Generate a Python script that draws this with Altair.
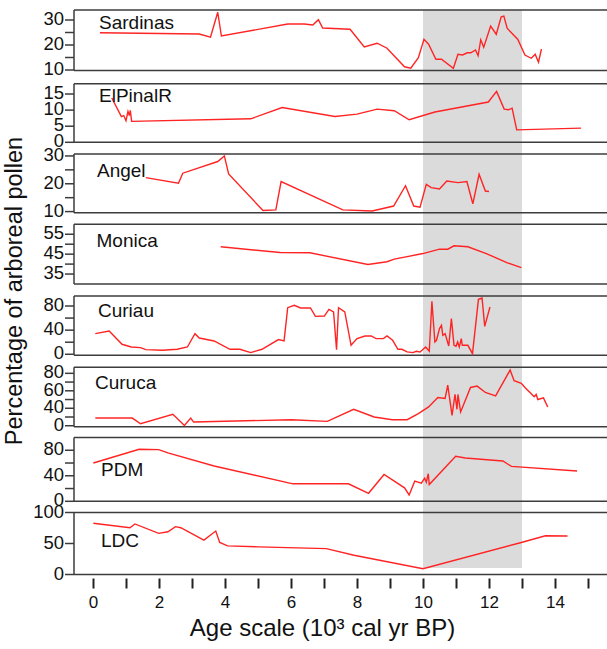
import altair as alt
import pandas as pd

# ---------------- data ----------------
band = [10, 13]

sardinas_age = [0.21, 3.22, 3.56, 3.78, 3.89, 5.9, 6.4, 6.66, 6.83, 6.96, 7.79, 8.22, 8.61, 8.91, 9.44, 9.63,
                9.86, 10.03, 10.17, 10.39, 10.56, 10.92, 11.06, 11.2, 11.34, 11.45, 11.59, 11.67, 11.75, 11.84,
                12.05, 12.22, 12.37, 12.45, 12.55, 12.87, 13.09, 13.28, 13.4, 13.5, 13.59]
sardinas_val = [24.9, 24.4, 23.1, 33.1, 23.6, 28.4, 28.4, 28.0, 30.1, 26.8, 26.3, 19.2, 20.7, 18.7, 11.3, 10.7,
                14.9, 22.3, 20.3, 14.3, 14.3, 10.7, 16.3, 16.0, 16.9, 16.9, 18.0, 15.7, 22.1, 19.1,
                27.6, 24.3, 31.3, 31.6, 26.7, 22.3, 16.0, 14.7, 16.3, 13.1, 18.4]

elpinal_age = [0.57, 0.86, 0.93, 1.0, 1.06, 1.1, 1.13, 1.17, 4.78, 5.73, 7.33, 8.0, 8.61, 9.13, 9.58, 10.36,
               11.98, 12.23, 12.46, 12.59, 12.7, 12.84, 14.79]
elpinal_val = [13.75, 8.0, 8.3, 6.7, 9.6, 8.3, 9.9, 6.5, 7.3, 10.8, 8.0, 8.75, 10.3, 9.8, 7.0, 9.4,
               12.5, 15.8, 10.3, 10.1, 10.6, 3.85, 4.4]

angel_age = [1.6, 2.59, 2.72, 3.78, 3.98, 4.11, 5.15, 5.54, 5.7, 7.57, 8.46, 9.11, 9.47, 9.72, 9.91, 10.1,
             10.25, 10.5, 10.72, 11.06, 11.33, 11.51, 11.7, 11.89, 12.0]
angel_val = [22.2, 20.2, 23.8, 28.0, 30.0, 23.5, 10.4, 10.6, 20.8, 10.6, 10.2, 12.0, 19.3, 12.0, 11.6, 19.8,
             18.6, 18.1, 21.0, 20.4, 20.8, 12.8, 23.4, 17.4, 17.2]

monica_age = [3.87, 5.67, 6.57, 8.33, 8.91, 9.13, 10.0, 10.5, 10.75, 10.94, 11.36, 11.92, 12.54, 12.98]
monica_val = [48.7, 45.8, 45.7, 39.8, 41.2, 42.5, 45.3, 47.5, 47.5, 49.2, 48.7, 45.3, 40.7, 38.2]

curiau_age = [0.07, 0.49, 0.88, 1.16, 1.44, 1.6, 2.1, 2.55, 2.86, 3.09, 3.22, 3.67, 4.15, 4.45, 4.78, 5.12,
              5.62, 5.79, 5.9, 6.1, 6.29, 6.59, 6.74, 7.01, 7.15, 7.29, 7.38, 7.44, 7.63, 7.82, 8.0, 8.24,
              8.43, 8.58, 8.8, 8.91, 9.08, 9.24, 9.36, 9.52, 9.69, 9.8, 9.91, 9.97, 10.08, 10.19, 10.27,
              10.36, 10.41, 10.5, 10.56, 10.6, 10.67, 10.78, 10.86, 10.94, 11.0, 11.05, 11.1, 11.16, 11.19,
              11.36, 11.5, 11.68, 11.79, 11.87, 12.03]
curiau_val = [34.2, 38.6, 16.6, 12.1, 11.0, 7.7, 6.6, 8.3, 12.1, 34.2, 27.0, 22.1, 8.3, 8.3, 2.8, 8.3,
              24.3, 22.1, 77.2, 81.1, 76.7, 76.7, 62.9, 63.4, 74.5, 70.1, 7.7, 77.2, 70.1, 14.9, 25.9, 30.3,
              30.3, 25.9, 25.9, 30.3, 23.2, 8.3, 8.3, 3.9, 2.8, 5.0, 3.9, 6.6, 12.1, 5.0, 87.7,
              20.4, 23.2, 42.5, 48.0, 31.4, 34.2, 13.8, 59.0, 14.9, 13.2, 20.4, 12.1, 25.9, 14.9,
              14.9, 1.1, 91.0, 93.2, 46.3, 78.3]

curuca_age = [0.07, 1.19, 1.44, 2.42, 2.77, 2.96, 3.05, 6.01, 7.1, 7.9, 8.52, 9.07, 9.52, 9.86, 10.17,
              10.45, 10.67, 10.75, 10.88, 10.97, 11.03, 11.06, 11.14, 11.44, 11.64, 11.89, 12.2, 12.64,
              12.76, 12.98, 13.09, 13.37, 13.43, 13.48, 13.65, 13.78]
curuca_val = [28.8, 28.8, 22.3, 33.1, 20.4, 28.8, 24.2, 26.9, 25.0, 38.8, 30.0, 26.9, 26.9, 33.8, 41.5,
              52.3, 51.2, 66.5, 31.9, 55.8, 38.8, 55.8, 35.8, 63.8, 65.4, 58.1, 54.2, 83.8,
              71.5, 68.5, 63.8, 53.1, 55.8, 50.0, 51.9, 41.5]

pdm_age = [0.01, 1.4, 1.99, 2.27, 3.67, 6.06, 7.74, 8.35, 8.82, 9.44, 9.58, 9.75, 9.95, 10.05, 10.1,
           10.16, 10.19, 10.99, 11.28, 12.42, 12.68, 14.67]
pdm_val = [60.0, 81.6, 81.0, 75.8, 55.3, 27.4, 27.4, 12.6, 42.1, 21.1, 10.0, 31.6, 28.4, 36.3, 30.0,
           43.2, 26.3, 70.5, 67.9, 63.2, 54.7, 47.4]

ldc_age = [0.01, 1.12, 1.27, 1.99, 2.27, 2.5, 2.66, 3.36, 3.72, 3.84, 4.08, 5.01, 7.07, 7.91, 10.0,
           12.98, 13.71, 14.38]
ldc_val = [82.6, 75.5, 81.5, 66.3, 69.0, 77.2, 75.5, 55.4, 70.1, 51.6, 46.2, 44.6, 41.8, 31.0, 9.2,
           51.6, 62.5, 62.0]

names = ["Sardinas", "ElPinalR", "Angel", "Monica", "Curiau", "Curuca", "PDM", "LDC"]
ages = [sardinas_age, elpinal_age, angel_age, monica_age, curiau_age, curuca_age, pdm_age, ldc_age]
vals = [sardinas_val, elpinal_val, angel_val, monica_val, curiau_val, curuca_val, pdm_val, ldc_val]

# axis domains and ticks (tick value -> label)
y_domains = [[9.8, 34], [0, 18.2], [9.6, 30.7], [30, 60], [-1.7, 96.6], [18.9, 86.9], [0, 100], [0, 100]]
y_tick_values = [
    [10, 15, 20, 25, 30],
    [0, 5, 10, 15],
    [10, 15, 20, 25, 30],
    [35, 40, 45, 50, 55],
    [0, 20, 40, 60, 80],
    [20, 30, 40, 50, 60, 70, 80],
    [0, 20, 40, 60, 80],
    [0, 50, 100],
]
y_tick_labels = [
    ["10", "", "20", "", "30"],
    ["0", "5", "10", "15"],
    ["10", "", "20", "", "30"],
    ["35", "", "45", "", "55"],
    ["0", "", "40", "", "80"],
    ["0", "", "40", "", "60", "", "80"],
    ["0", "", "40", "", "80"],
    ["0", "50", "100"],
]
x_ticks = list(range(0, 16))
x_domain = [-0.576, 15.576]

# ---------------- layout ----------------
W, H = 533, 565
y_ranges = [[60.5, 0], [132.3, 73.7], [202.7, 144], [274, 214.3], [345.3, 286], [416.7, 357.3],
            [491.3, 427.5], [564.5, 502.5]]
label_xy = [(25, 19), (25, 92), (23, 166.7), (22.5, 236.7), (24, 307), (21, 379.3), (27, 466), (27, 536.7)]

RED = "#ff2424"
FRAME = "#3c3c3c"
FONT = "Liberation Sans"
TXT = "#111111"

xscale = alt.Scale(domain=x_domain, nice=False, zero=False)
xaxis = alt.Axis(values=x_ticks, labelExpr="datum.value % 2 == 0 ? datum.label : ''",
                 domain=False, grid=False, tickSize=10, tickWidth=2, tickColor="#222222", offset=3,
                 labelFont=FONT, labelFontSize=17, labelColor=TXT, labelPadding=6, labelFlush=False,
                 title="Age scale (10³ cal yr BP)", titleFont=FONT, titleFontSize=24,
                 titleFontWeight="normal", titleColor=TXT, titlePadding=6, titleX=248,
                 titleAlign="center")


def panel(i):
    df = pd.DataFrame({"age": ages[i], "val": vals[i]})
    ysc = alt.Scale(domain=y_domains[i], range=y_ranges[i], nice=False, zero=False)
    line = alt.Chart(df).mark_line(color=RED, strokeWidth=1.4).encode(
        x=alt.X("age:Q", scale=xscale, axis=xaxis),
        y=alt.Y("val:Q", scale=ysc, axis=None),
    )
    fr = pd.DataFrame({"lo": [y_domains[i][0]], "hi": [y_domains[i][1]]})
    top = alt.Chart(fr).mark_rule(color=FRAME, strokeWidth=1.5).encode(
        y=alt.Y("hi:Q", scale=ysc, axis=None), x=alt.value(0), x2=alt.value(W))
    bot = alt.Chart(fr).mark_rule(color=FRAME, strokeWidth=1.5).encode(
        y=alt.Y("lo:Q", scale=ysc, axis=None), x=alt.value(0), x2=alt.value(W))
    left = alt.Chart(fr).mark_rule(color=FRAME, strokeWidth=1.5).encode(
        y=alt.Y("lo:Q", scale=ysc, axis=None), y2="hi:Q", x=alt.value(0))
    tdf = pd.DataFrame({"v": y_tick_values[i], "lab": y_tick_labels[i]})
    ticks = alt.Chart(tdf).mark_rule(color=FRAME, strokeWidth=1.5).encode(
        y=alt.Y("v:Q", scale=ysc, axis=None), x=alt.value(-9), x2=alt.value(0))
    tlabs = alt.Chart(tdf).mark_text(align="right", baseline="middle", font=FONT, fontSize=18.5,
                                     color=TXT, dy=-1).encode(
        y=alt.Y("v:Q", scale=ysc, axis=None), x=alt.value(-10), text="lab:N")
    lx, ly = label_xy[i]
    lab = alt.Chart(pd.DataFrame({"name": [names[i]]})).mark_text(
        align="left", baseline="alphabetic", font=FONT, fontSize=19, color=TXT).encode(
        x=alt.value(lx), y=alt.value(ly), text="name:N")
    return alt.layer(top, bot, left, ticks, tlabs, line, lab)


band_df = pd.DataFrame({"start": [band[0]], "end": [band[1]]})
band_layer = alt.Chart(band_df).mark_rect(color="#dcdbdc").encode(
    x=alt.X("start:Q", scale=xscale, axis=xaxis), x2="end:Q", y=alt.value(0), y2=alt.value(558))

ytitle = alt.Chart(pd.DataFrame({"t": ["Percentage of arboreal pollen"]})).mark_text(
    angle=270, align="center", baseline="middle", font=FONT, fontSize=23.5, color=TXT).encode(
    x=alt.value(-59), y=alt.value(281), text="t:N")

chart = alt.layer(band_layer, *[panel(i) for i in range(8)], ytitle).resolve_scale(
    y="independent").properties(
    width=W, height=H,
    autosize=alt.AutoSizeParams(type="none"),
    padding={"left": 74, "top": 10, "right": 0, "bottom": 74},
).configure_view(stroke=None)

chart.save("out.html", embed_options={"renderer": "svg", "actions": False})
